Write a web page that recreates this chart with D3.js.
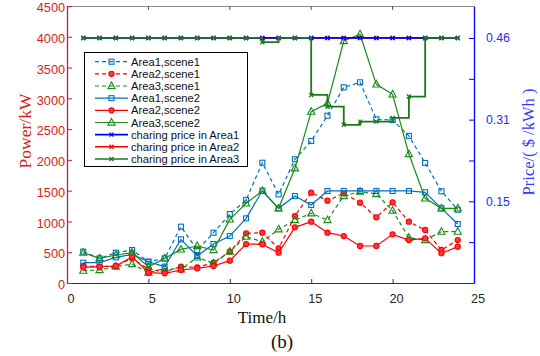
<!DOCTYPE html>
<html><head><meta charset="utf-8">
<script src="https://cdn.jsdelivr.net/npm/d3@7"></script>
<style>body{margin:0;background:#fff}svg{display:block}</style>
</head><body>
<svg id="c" width="540" height="356"></svg>
<script>
// ---- data ----
const hours = [1,2,3,4,5,6,7,8,9,10,11,12,13,14,15,16,17,18,19,20,21,22,23,24];
const area1Scene1 = [509,400,492,536,346,400,915,536,817,1120,1348,1954,1440,2010,2307,2718,3179,3260,2659,2648,2390,1950,1490,1190];
const area2Scene1 = [276,265,276,400,222,184,265,254,330,509,807,817,563,1088,1467,1337,1456,1305,1067,1310,996,861,536,698];
const area3Scene1 = [200,211,265,308,168,238,222,417,319,509,752,671,872,1023,1132,1023,1413,1484,1446,1175,736,698,834,834];
const area1Scene2 = [330,330,417,465,346,265,709,438,633,763,1050,1500,1213,1413,1267,1495,1495,1495,1495,1495,1495,1473,1213,958];
const area2Scene2 = [254,265,276,427,168,157,211,238,276,363,633,628,492,904,996,817,763,601,601,790,698,725,482,590];
const area3Scene2 = [492,400,455,492,265,400,546,601,536,1034,1294,1495,1213,1863,2783,2919,3931,4040,3227,3065,2095,1375,1213,1213];
const priceArea1 = [0.46,0.46,0.46,0.46,0.46,0.46,0.46,0.46,0.46,0.46,0.46,0.46,0.46,0.46,0.46,0.46,0.46,0.46,0.46,0.46,0.46,0.46,0.46,0.46];
const priceArea2 = [0.46,0.46,0.46,0.46,0.46,0.46,0.46,0.46,0.46,0.46,0.46,0.46,0.46,0.46,0.46,0.46,0.46,0.46,0.46,0.46,0.46,0.46,0.46,0.46];
const priceArea3 = [0.46,0.46,0.46,0.46,0.46,0.46,0.46,0.46,0.46,0.46,0.46,0.452,0.46,0.46,0.353,0.331,0.297,0.303,0.303,0.31,0.35,0.46,0.46,0.46];
const xTicks = [0,5,10,15,20,25];
const powerTicks = [0,500,1000,1500,2000,2500,3000,3500,4000,4500];
const priceTicks = [0.0767,0.1533,0.23,0.3067,0.3833,0.46];
const priceTickLabels = ["","0.15","","0.31","","0.46"];
const legendLabels = ["Area1,scene1","Area2,scene1","Area3,scene1","Area1,scene2","Area2,scene2","Area3,scene2","charing price in Area1","charing price in Area2","charing price in Area3"];

// ---- chart ----
const svg = d3.select("#c");
const L = 67, R = 474, T = 6, B = 283;
const x = d3.scaleLinear().domain([0,25]).range([L,R]);
const y = d3.scaleLinear().domain([0,4500]).range([B,T]);
const yP = d3.scaleLinear().domain([0,0.52]).range([B,T]);

const cBlue = "#0072BD", cRed = "#ff0000", cGreen = "#1a8a1a";
const sans = "'Liberation Sans', Arial, sans-serif";
const serif = "'Liberation Serif', 'Times New Roman', serif";

// top frame
svg.append("line").attr("x1",L).attr("x2",R).attr("y1",T+0.5).attr("y2",T+0.5).attr("stroke","#8a8a8a").attr("stroke-width",1);
svg.append("g").selectAll("line").data(xTicks.slice(1,-1)).join("line")
  .attr("x1",d=>x(d)).attr("x2",d=>x(d)).attr("y1",T).attr("y2",T+4).attr("stroke","#555");

// bottom axis
const gx = svg.append("g").attr("transform",`translate(0,${B})`)
  .call(d3.axisBottom(x).tickValues(xTicks).tickSizeInner(-4).tickSizeOuter(0).tickPadding(11));
gx.select(".domain").attr("stroke","#333");
gx.selectAll(".tick line").attr("stroke","#333");
gx.selectAll("text").attr("font-family",sans).attr("font-size",12.7).attr("fill","#262626").attr("dx",3.5);

// left axis
const gy = svg.append("g").attr("transform",`translate(${L},0)`)
  .call(d3.axisLeft(y).tickValues(powerTicks).tickFormat(d3.format("d")).tickSizeInner(-5).tickSizeOuter(0).tickPadding(2));
gy.select(".domain").attr("stroke","#cc1f1f").attr("stroke-width",1.3);
gy.selectAll(".tick line").attr("stroke","#cc1f1f");
gy.selectAll("text").attr("font-family",sans).attr("font-size",12.7).attr("fill","#d42222").attr("dy","0.45em");

// right axis
const gyr = svg.append("g").attr("transform",`translate(${R},0)`)
  .call(d3.axisRight(yP).tickValues(priceTicks).tickFormat((d,i)=>priceTickLabels[i]).tickSizeInner(-5).tickSizeOuter(0).tickPadding(12));
gyr.select(".domain").attr("stroke","#0000ff").attr("stroke-width",1.3);
gyr.selectAll(".tick line").attr("stroke","#0000ff");
gyr.selectAll("text").attr("font-family",sans).attr("font-size",12.3).attr("fill","#2b2bff");

// axis titles
svg.append("text").attr("transform","translate(31,131) rotate(-90)").attr("text-anchor","middle")
  .attr("font-family",serif).attr("font-size",17.5).attr("fill","#d42222").text("Power/kW");
svg.append("text").attr("transform","translate(534,142) rotate(-90)").attr("text-anchor","middle")
  .attr("font-family",serif).attr("font-size",16.5).attr("fill","#3a3aff").text("Price/( $ /kWh )");
svg.append("text").attr("x",262).attr("y",323).attr("text-anchor","middle")
  .attr("font-family",serif).attr("font-size",17).attr("fill","#111").text("Time/h");
svg.append("text").attr("x",282).attr("y",348).attr("text-anchor","middle")
  .attr("font-family",serif).attr("font-size",19).attr("fill","#111").text("(b)");

// marker drawers
function marker(g, type, color){
  if(type==="square") g.append("rect").attr("x",-2.5).attr("y",-2.5).attr("width",5).attr("height",5).attr("fill","none").attr("stroke",color).attr("stroke-width",1.1);
  else if(type==="circle") g.append("circle").attr("r",2.6).attr("fill","#ff3a3a").attr("stroke",color).attr("stroke-width",1.1);
  else if(type==="triangle") g.append("path").attr("d","M0,-4L3.6,2.6L-3.6,2.6Z").attr("fill","none").attr("stroke",color).attr("stroke-width",1.1);
  else if(type==="x") g.append("path").attr("d","M-2,-2L2,2M-2,2L2,-2").attr("fill","none").attr("stroke",color).attr("stroke-width",1.3);
}

const series = [
  {vals:area1Scene1,color:cBlue,dash:"4,3",m:"square",scale:y,step:false},
  {vals:area2Scene1,color:cRed,dash:"4,3",m:"circle",scale:y,step:false},
  {vals:area3Scene1,color:cGreen,dash:"4,3",m:"triangle",scale:y,step:false},
  {vals:area1Scene2,color:cBlue,dash:null,m:"square",scale:y,step:false},
  {vals:area2Scene2,color:cRed,dash:null,m:"circle",scale:y,step:false},
  {vals:area3Scene2,color:cGreen,dash:null,m:"triangle",scale:y,step:false},
  {vals:priceArea1,color:"#0000ff",dash:null,m:"x",scale:yP,step:true},
  {vals:priceArea2,color:"#ff0000",dash:null,m:"x",scale:yP,step:true},
  {vals:priceArea3,color:"#1a7a1a",dash:null,m:"x",scale:yP,step:true}
];
// drawing order (price lines: red under blue under green)
const drawOrder = [0,1,2,3,4,5,7,6,8];

const plot = svg.append("g");
drawOrder.forEach(k=>{
  const s = series[k];
  const line = d3.line().x((d,i)=>x(hours[i])).y(d=>s.scale(d));
  if(s.step) line.curve(d3.curveStepAfter);
  plot.append("path").datum(s.vals).attr("d",line).attr("fill","none")
    .attr("stroke",s.color).attr("stroke-width",s.step?1.8:1.2)
    .attr("stroke-dasharray",s.dash);
  s.vals.forEach((v,i)=>{
    const g = plot.append("g").attr("transform",`translate(${x(hours[i])},${s.scale(v)})`);
    marker(g,s.m,s.color);
  });
});

// legend
const lg = svg.append("g");
lg.append("rect").attr("x",84.5).attr("y",52.5).attr("width",163).attr("height",114)
  .attr("fill","#fff").attr("stroke","#000").attr("stroke-width",1);
series.forEach((s,i)=>{
  const yy = 61.7 + i*12.16;
  lg.append("line").attr("x1",95).attr("x2",128).attr("y1",yy).attr("y2",yy)
    .attr("stroke",s.color).attr("stroke-width",s.step?1.6:1.2).attr("stroke-dasharray",s.dash);
  const g = lg.append("g").attr("transform",`translate(111.5,${yy})`);
  marker(g,s.m,s.color);
  lg.append("text").attr("x",131).attr("y",yy+4).attr("font-family",sans).attr("font-size",11.2)
    .attr("fill","#111").text(legendLabels[i]);
});
</script>
</body></html>
